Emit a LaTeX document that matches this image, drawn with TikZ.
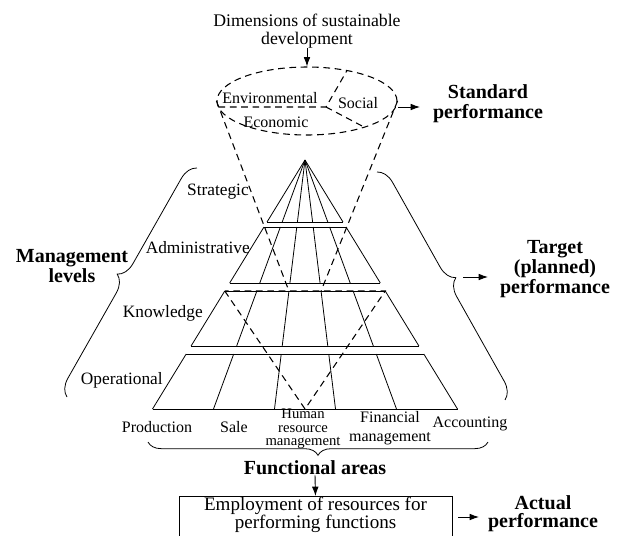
\documentclass[tikz,border=0pt]{standalone}
\usepackage{fontspec}
\setmainfont{Liberation Serif}
\usetikzlibrary{calc,shapes.geometric,decorations.pathreplacing,arrows.meta}
\begin{document}
\begin{tikzpicture}[x=0.75pt,y=-0.75pt,
  thinl/.style={line width=0.6pt},
  dashline/.style={line width=0.8pt, dash pattern=on 5pt off 3.5pt},
  arr/.style={line width=0.7pt,-{Latex[length=7pt,width=5pt]}},
  lab/.style={font=\fontsize{13}{14}\selectfont, inner sep=0pt},
  slab/.style={font=\fontsize{12}{13}\selectfont, inner sep=0pt, align=center},
  blab/.style={font=\fontsize{15}{15}\selectfont\bfseries, align=center, inner sep=0pt},
  bracel/.style={thinl, decorate, decoration={brace, amplitude=#1}}
]
\clip (0,0) rectangle (622,536);

% top: dimensions and ellipse
\node[lab, align=center, font=\fontsize{13.3}{13.4}\selectfont] (dim) at (307,31) {Dimensions of sustainable\\development};
\node[draw, dashline, ellipse, minimum width=135pt, minimum height=51pt, inner sep=0pt] (ell) at (307,101) {};
\draw[arr] (dim.south) -- (ell.north);
\coordinate (j) at (326,107);
\coordinate (jw) at (218.5,107);
\coordinate (jn) at (347,70.5);
\coordinate (js) at (364,127);
\draw[dashline] (jw) -- (j) -- (jn);
\draw[dashline] (j) -- (js);
\node[slab] (env) at (270,98) {Environmental};
\node[slab] (eco) at (276,122) {Economic};
\node[slab] (soc) at (358,103) {Social};
\node[blab] (std) at (488,104) {Standard\\performance};
\coordinate (e1) at (398,107);
\coordinate (e2) at (420,107);
\draw[arr] (e1) -- (e2);

% pyramid
\coordinate (A) at (305,160);
\foreach \k in {0,...,5}{\coordinate (B\k) at ({152.5+61*\k},409);}
\foreach \ft/\fb in {0/0.249, 0.2691/0.494, 0.5261/0.747, 0.7791/1}{
  \foreach \k in {0,...,5}{\draw[thinl] ($(A)!\ft!(B\k)$) -- ($(A)!\fb!(B\k)$);}
  \draw[thinl] ($(A)!\fb!(B0)$) -- ($(A)!\fb!(B5)$);
  \draw[thinl] ($(A)!\ft!(B0)$) -- ($(A)!\ft!(B5)$);
}
% dashed cone and V
\coordinate (K0) at ($(A)!0.5261!(B0)$);
\coordinate (K2) at ($(A)!0.5261!(B2)$);
\coordinate (K3) at ($(A)!0.5261!(B3)$);
\coordinate (K5) at ($(A)!0.5261!(B5)$);
\coordinate (V) at (305,409);
\draw[dashline] (ell.west) -- (K2);
\draw[dashline] (ell.east) -- (K3);
\draw[dashline] (K0) -- (V) -- (K5) -- cycle;

% level labels
\node[lab, anchor=east] (lstr) at (249,192) {Strategic};
\node[lab, anchor=east] (ladm) at (250,248) {Administrative};
\node[lab, anchor=east] (lkno) at (203,313) {Knowledge};
\node[lab, anchor=east] (lope) at (163,380) {Operational};

% braces
\draw[bracel=12.75pt] (67,397) -- (197,168);
\draw[bracel=12.75pt] (377,172) -- (505,400);
\draw[bracel=10pt] (488,442) -- (148,442);
\node[blab] (mgmt) at (72,266) {Management\\levels};
\node[blab] (tgt) at (555,269) {Target\\(planned)\\performance};
\coordinate (t1) at (463,277);
\coordinate (t2) at (488,277);
\draw[arr] (t1) -- (t2);

% functional areas
\node[slab] (prod) at (157,427) {Production};
\node[slab] (sale) at (234,427) {Sale};
\node[inner sep=0pt, align=center, font=\fontsize{11}{10}\selectfont] (hrm) at (303,429) {Human\\resource\\management};
\node[inner sep=0pt, align=center, font=\fontsize{12}{14.2}\selectfont] (fin) at (390,428) {Financial\\management};
\node[slab] (acc) at (470,424) {Accounting};
\node[blab] (func) at (315,468) {Functional areas};

% bottom box
\node[draw, thinl, minimum width=204.75pt, minimum height=60pt, anchor=north, inner sep=0pt] (box) at (315.5,496) {};
\node[inner sep=0pt, align=center, font=\fontsize{14.3}{13.5}\selectfont] (emp) at (315.5,515) {Employment of resources for\\performing functions};
\draw[arr] (func.south) -- (box.north);
\node[blab, font=\fontsize{15}{13.5}\selectfont\bfseries] (act) at (543,514) {Actual\\performance};
\coordinate (a1) at (458,517);
\coordinate (a2) at (479,517);
\draw[arr] (a1) -- (a2);
\end{tikzpicture}
\end{document}
